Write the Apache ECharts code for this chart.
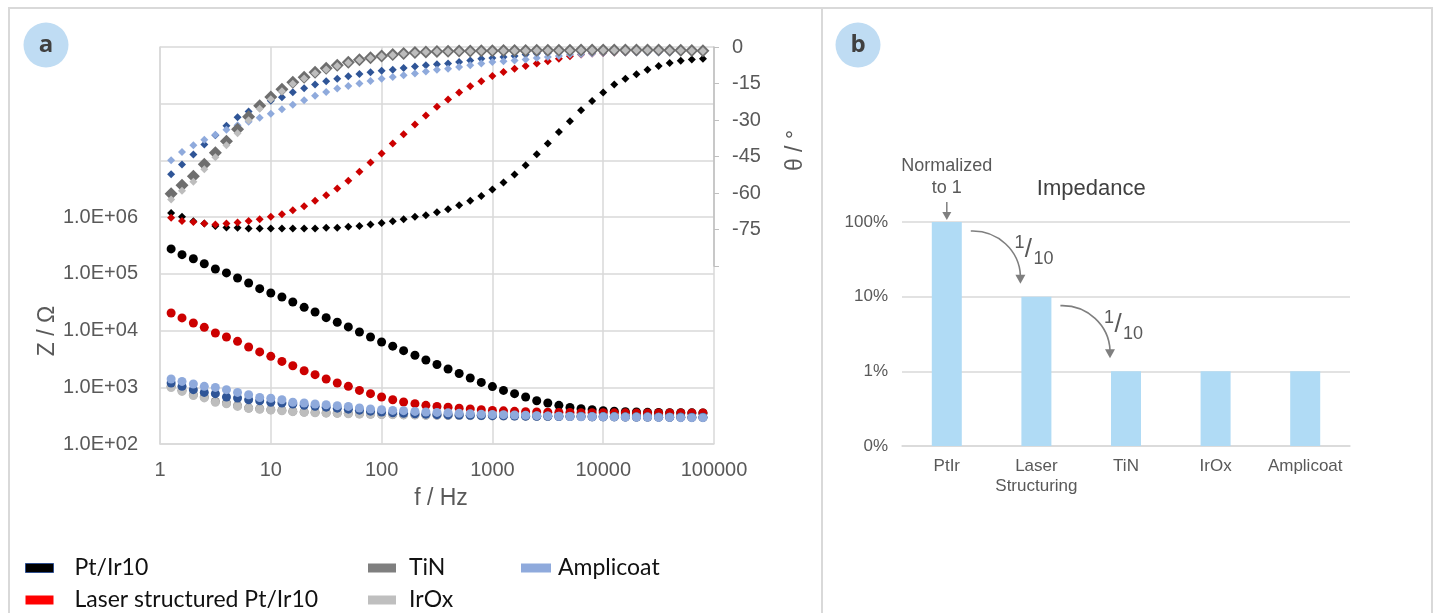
<!DOCTYPE html>
<html><head><meta charset="utf-8">
<script src="https://cdn.jsdelivr.net/npm/echarts@6/dist/echarts.min.js"></script>
<style>html,body{margin:0;padding:0;background:#fff}#c{width:1438px;height:613px}</style>
</head><body><div id="c"></div>
<script>
// ---------------- DATA ----------------
const freqHz = [1.26,1.58,2.0,2.51,3.16,3.98,5.01,6.31,7.94,10,12.6,15.8,20,25.1,31.6,39.8,50.1,63.1,79.4,100,126,158,200,251,316,398,501,631,794,1000,1259,1585,1995,2512,3162,3981,5012,6310,7943,10000,12589,15849,19953,25119,31623,39811,50119,63096,79433];

// |Z| in Ohm
const zPtIr = [275000,218000,185000,151000,122000,104000,84700,69100,54800,46000,39100,31900,25700,21300,16900,14000,11600,9450,7710,6300,5310,4420,3680,3030,2520,2100,1750,1460,1220,1030,881,771,675,580,529,480,442,419,403,387,378,372,366,362,359,357,355,354,353];
const zLaser = [20400,16700,13600,11400,9070,7710,6450,5140,4200,3510,2860,2400,1960,1670,1400,1190,1040,881,771,675,604,551,514,480,460,446,428,416,403,391,384,377,371,367,364,361,359,356,356,355,354,354,352,352,352,352,352,352,352];
const zTiN = [1038,881,740,675,564,529,474,432,419,403,391,376,367,361,356,352,347,342,338,335,333,329,329,325,325,322,322,319,319,316,316,316,312,312,309,309,307,307,303,303,303,299,299,299,297,297,297,294,294];
const zIrOx = [990,845,715,650,545,510,460,425,410,398,385,372,362,356,350,346,342,338,334,331,329,326,325,322,321,319,318,316,315,313,312,311,310,308,307,306,305,304,303,302,301,300,299,298,297,296,295,294,293];
const zDarkBlue = [1190,1038,907,813,771,675,648,604,580,542,529,508,483,464,446,428,411,395,379,367,356,349,342,336,329,326,323,320,318,316,314,312,310,309,308,306,305,304,303,302,301,300,299,298,297,296,296,295,295];
const zAmplicoat = [1400,1270,1143,1038,996,907,813,740,660,640,604,545,529,508,493,474,460,432,414,403,391,387,376,367,361,356,349,342,336,332,329,325,322,316,313,309,306,303,303,300,300,297,297,297,294,294,291,291,291];

// phase in degrees
const pPtIr = [-68.2,-69.8,-71.6,-72.5,-73.6,-74.2,-74.3,-74.6,-74.6,-74.6,-74.6,-74.6,-74.6,-74.6,-74.3,-74.3,-73.9,-73.6,-72.9,-72.3,-71.6,-70.8,-69.8,-69.1,-67.9,-66.7,-65.0,-63.2,-61.2,-58.6,-55.7,-52.4,-48.6,-44.1,-39.7,-34.9,-30.5,-26.0,-22.2,-18.7,-15.4,-13.0,-11.2,-9.3,-7.8,-6.6,-5.7,-5.1,-4.8];
const pLaser = [-70.2,-71.5,-71.9,-72.5,-72.9,-72.5,-72.1,-71.5,-70.8,-69.8,-68.7,-67.1,-65.4,-63.2,-60.9,-58.2,-55.0,-51.3,-47.5,-43.8,-39.7,-35.9,-31.9,-28.1,-24.6,-21.6,-18.7,-16.1,-14.1,-11.9,-10.3,-8.9,-7.8,-6.8,-5.9,-4.8,-3.8,-3.1,-2.7,-2.5,-2.3,-2.2,-2.1,-2.0,-2.0,-1.9,-1.9,-1.8,-1.8];
const pTiN = [-60.3,-56.8,-53.1,-48.2,-43.5,-38.7,-33.8,-28.7,-24.1,-20.5,-17.4,-14.5,-12.4,-10.4,-8.7,-7.5,-6.3,-5.2,-4.4,-3.7,-3.1,-2.7,-2.3,-2.1,-1.8,-1.7,-1.6,-1.6,-1.5,-1.5,-1.4,-1.4,-1.4,-1.3,-1.3,-1.3,-1.3,-1.2,-1.2,-1.2,-1.2,-1.2,-1.2,-1.2,-1.2,-1.3,-1.3,-1.4,-1.5];
const pIrOx = [-62.7,-59.1,-55.4,-50.2,-45.3,-40.4,-35.4,-30.1,-25.4,-21.5,-18.2,-15.1,-12.9,-10.8,-9.2,-7.8,-6.5,-5.3,-4.5,-3.8,-3.3,-2.8,-2.4,-2.1,-1.8,-1.8,-1.7,-1.7,-1.6,-1.6,-1.5,-1.5,-1.5,-1.4,-1.4,-1.4,-1.4,-1.3,-1.3,-1.3,-1.3,-1.3,-1.3,-1.3,-1.3,-1.4,-1.4,-1.5,-1.6];
const pDarkBlue = [-52.3,-48.3,-44.2,-40.1,-36.3,-32.4,-28.9,-26.5,-23.9,-22.1,-20.7,-18.6,-17.0,-15.4,-14.1,-13.0,-12.0,-11.1,-10.4,-9.8,-9.4,-8.6,-8.0,-7.5,-7.1,-6.8,-6.2,-5.5,-4.8,-4.5,-4.1,-3.7,-3.1,-2.7,-2.5,-2.3,-2.1,-2.1,-1.8,-1.7,-1.6,-1.6,-1.5,-1.5,-1.5,-1.4,-1.4,-1.6,-1.7];
const pAmplicoat = [-46.5,-43.2,-40.4,-38.1,-36.1,-34.0,-32.2,-30.7,-29.1,-27.4,-25.6,-23.7,-21.9,-20.0,-18.5,-17.1,-16.0,-15.0,-14.0,-13.0,-12.3,-11.6,-10.9,-10.1,-9.4,-8.9,-8.2,-7.5,-6.8,-6.2,-5.9,-5.5,-5.1,-4.5,-4.1,-3.7,-3.1,-3.0,-2.7,-2.5,-2.3,-2.3,-2.3,-2.3,-2.3,-2.3,-2.1,-2.1,-2.1];

// panel b
const barCategories = ['PtIr','Laser\nStructuring','TiN','IrOx','Amplicoat'];
const barImpedance = [1, 0.1, 0.01, 0.01, 0.01];
const barNotes = ['1/10','1/10'];

// ---------------- CHART ----------------
const FONT = '"Liberation Sans", Arial, sans-serif';
const LEG_FONT = 'Lato, "Open Sans", sans-serif';
const GRID_C = '#d9d9d9';
const LABEL_C = '#595959';

const pair = arr => freqHz.map((f, i) => [f, arr[i]]);
function zSer(name, arr, color, z) {
  return {type:'scatter', name, xAxisIndex:0, yAxisIndex:0, data:pair(arr), symbol:'circle',
    symbolSize:9, itemStyle:{color, opacity:1}, z, silent:true};
}
function pSer(name, arr, color, size, z) {
  return {type:'scatter', name, xAxisIndex:1, yAxisIndex:1, data:pair(arr), symbol:'diamond',
    symbolSize:size, itemStyle:{color, opacity:1}, z, silent:true};
}
const legendBase = {orient:'vertical', top:550, height:70, itemWidth:28, itemHeight:9, itemGap:6, selectedMode:false, icon:'rect'};
const legText = pad => ({fontSize:23, lineHeight:26, fontFamily:LEG_FONT, color:'#111', padding:[0,0,0,pad]});

const chart = echarts.init(document.getElementById('c'), null, {renderer:'canvas'});
const option = {
  animation:false,
  backgroundColor:'#fff',
  grid:[
    {left:160, top:47, width:554, height:397},
    {left:160, top:47, width:554, height:219},
    {left:902, top:222, width:448, height:224}
  ],
  xAxis:[
    {gridIndex:0, type:'log', logBase:10, min:1, max:100000, splitNumber:5,
     axisLine:{show:true, lineStyle:{color:GRID_C, width:1.5}}, axisTick:{show:false},
     splitLine:{show:true, lineStyle:{color:GRID_C, width:1.5}},
     axisLabel:{color:LABEL_C, fontSize:20, fontFamily:FONT, margin:16, formatter:v=>String(Math.round(v))},
     name:'f / Hz', nameLocation:'middle', nameGap:43,
     nameTextStyle:{color:LABEL_C, fontSize:23, fontFamily:FONT, padding:[0,0,0,8]}},
    {gridIndex:1, type:'log', logBase:10, min:1, max:100000, show:false},
    {gridIndex:2, type:'category', data:barCategories,
     axisLine:{show:true, lineStyle:{color:GRID_C, width:1.5}}, axisTick:{show:false},
     axisLabel:{color:LABEL_C, fontSize:17, fontFamily:FONT, margin:10, lineHeight:20, interval:0, hideOverlap:false}}
  ],
  yAxis:[
    {gridIndex:0, type:'log', logBase:10, min:100, max:1e9, splitNumber:7,
     axisLine:{show:true, lineStyle:{color:GRID_C, width:1.5}}, axisTick:{show:false},
     splitLine:{show:true, lineStyle:{color:GRID_C, width:1.5}},
     axisLabel:{color:LABEL_C, fontSize:20, fontFamily:FONT, margin:22,
       formatter:v=>{const e=Math.round(Math.log10(v)); return e<=6 ? '1.0E+0'+e : '';}}},
    {gridIndex:1, type:'value', position:'right', min:-90, max:0, interval:15,
     axisLine:{show:true, lineStyle:{color:'#bfbfbf', width:1.5}},
     axisTick:{show:true, inside:false, length:5, lineStyle:{color:'#bfbfbf'}},
     splitLine:{show:false},
     axisLabel:{color:LABEL_C, fontSize:20, fontFamily:FONT, margin:18,
       formatter:v=> v===-90 ? '' : String(v)},
     name:'θ / °', nameLocation:'middle', nameRotate:90, nameGap:70,
     nameTextStyle:{color:LABEL_C, fontSize:23, fontFamily:FONT, padding:[0,0,0,12]}},
    {gridIndex:2, type:'log', logBase:10, min:0.001, max:1, splitNumber:3, startValue:0.001,
     axisLine:{show:false}, axisTick:{show:false},
     splitLine:{show:true, lineStyle:{color:GRID_C, width:1.5}},
     axisLabel:{color:LABEL_C, fontSize:17, fontFamily:FONT, margin:14,
       formatter:v=>Math.round(v*100)+'%'}}
  ],
  legend:[
    Object.assign({}, legendBase, {left:20, textStyle:legText(16),
     data:[{name:'Pt/Ir10', itemStyle:{color:'#000', borderColor:'#2f4f8f', borderWidth:1, opacity:1}},
           {name:'Laser structured Pt/Ir10', itemStyle:{color:'#ff0000', opacity:1}}]}),
    Object.assign({}, legendBase, {left:363, textStyle:legText(8),
     data:[{name:'TiN', itemStyle:{color:'#7f7f7f', opacity:1}},
           {name:'IrOx', itemStyle:{color:'#bfbfbf', opacity:1}}]}),
    Object.assign({}, legendBase, {left:516, itemWidth:30, textStyle:legText(2),
     data:[{name:'Amplicoat', itemStyle:{color:'#8faadc', opacity:1}}]})
  ],
  series:[
    zSer('Pt/Ir10', zPtIr, '#000000', 2),
    zSer('Laser structured Pt/Ir10', zLaser, '#cc0000', 3),
    zSer('TiN', zTiN, '#7f7f7f', 4),
    zSer('IrOx', zIrOx, '#bdbdbd', 5),
    zSer('Pt/Ir10 reference', zDarkBlue, '#2f5597', 6),
    zSer('Amplicoat', zAmplicoat, '#8faadc', 7),
    pSer('Pt/Ir10', pPtIr, '#000000', 8, 2),
    pSer('Laser structured Pt/Ir10', pLaser, '#cc0000', 8, 3),
    pSer('Pt/Ir10 reference', pDarkBlue, '#2f5597', 8, 4),
    pSer('Amplicoat', pAmplicoat, '#8faadc', 8, 5),
    pSer('TiN', pTiN, '#6e6e6e', 13, 6),
    pSer('IrOx', pIrOx, '#bdbdbd', 8, 7),
    {type:'bar', name:'Impedance', xAxisIndex:2, yAxisIndex:2, data:barImpedance, barWidth:30,
     itemStyle:{color:'#b0dbf5'}, silent:true}
  ]
};
chart.setOption(option);

// ---------- decorations & annotations ----------
const G = [];
G.push({type:'rect', shape:{x:9,y:8,width:813,height:640}, style:{fill:null, stroke:'#d9d9d9', lineWidth:2}, silent:true});
G.push({type:'rect', shape:{x:822,y:8,width:610,height:640}, style:{fill:null, stroke:'#d9d9d9', lineWidth:2}, silent:true});
G.push({type:'circle', shape:{cx:46, cy:45, r:22.5}, style:{fill:'#bfdcf3'}, silent:true});
G.push({type:'text', x:46, y:45, style:{text:'a', fontSize:24, fontWeight:'bold', fontFamily:'"Open Sans", sans-serif', fill:'#404040', align:'center', verticalAlign:'middle'}, silent:true});
G.push({type:'circle', shape:{cx:858, cy:45, r:22.5}, style:{fill:'#bfdcf3'}, silent:true});
G.push({type:'text', x:858, y:45, style:{text:'b', fontSize:24, fontWeight:'bold', fontFamily:'"Open Sans", sans-serif', fill:'#404040', align:'center', verticalAlign:'middle'}, silent:true});
G.push({type:'text', x:48, y:331, rotation:Math.PI/2, style:{text:'Z / Ω', fontSize:23, fontFamily:FONT, fill:LABEL_C, align:'center', verticalAlign:'middle'}, silent:true});

const barPx = barCategories.map((c, i) => chart.convertToPixel({gridIndex:2}, [c, barImpedance[i]]));
const AC = '#7f7f7f';
// title
G.push({type:'text', x:(barPx[1][0]+barPx[2][0])/2 + 10, y:barPx[0][1]-33, style:{text:'Impedance', fontSize:22, fontFamily:FONT, fill:'#404040', align:'center', verticalAlign:'middle'}, silent:true});
// "Normalized to 1"
const p0 = barPx[0];
G.push({type:'text', x:p0[0], y:p0[1]-56, style:{text:'Normalized', fontSize:18, fontFamily:FONT, fill:LABEL_C, align:'center', verticalAlign:'middle'}, silent:true});
G.push({type:'text', x:p0[0], y:p0[1]-34, style:{text:'to 1', fontSize:18, fontFamily:FONT, fill:LABEL_C, align:'center', verticalAlign:'middle'}, silent:true});
G.push({type:'line', shape:{x1:p0[0], y1:p0[1]-20, x2:p0[0], y2:p0[1]-8}, style:{stroke:AC, lineWidth:1.5}, silent:true});
G.push({type:'polygon', shape:{points:[[p0[0]-4.5,p0[1]-10],[p0[0]+4.5,p0[1]-10],[p0[0],p0[1]-2]]}, style:{fill:AC}, silent:true});
// curved arrows with 1/10
for (let i = 0; i < 2; i++) {
  const a = barPx[i], b = barPx[i+1];
  const S = [a[0]+24, a[1]+9];
  const T = [b[0]-16, b[1]-13];
  const B = [T[0], T[1]-8];
  G.push({type:'bezierCurve', shape:{x1:S[0], y1:S[1], cpx1:S[0]+0.55*(B[0]-S[0]), cpy1:S[1]-1, cpx2:B[0]-1, cpy2:S[1]+0.45*(B[1]-S[1]), x2:B[0], y2:B[1]},
    style:{stroke:AC, lineWidth:1.6, fill:null}, silent:true});
  G.push({type:'polygon', shape:{points:[[T[0]-5,T[1]-9],[T[0]+5,T[1]-9],[T[0],T[1]]]}, style:{fill:AC}, silent:true});
  const cx = b[0]-3, cy = a[1]+29;
  const parts = barNotes[i].split('/');
  G.push({type:'text', x:cx-14, y:cy-8, style:{text:parts[0], fontSize:18, fontFamily:FONT, fill:LABEL_C, align:'center', verticalAlign:'middle'}, silent:true});
  G.push({type:'text', x:cx-5, y:cy-1, style:{text:'/', fontSize:26, fontFamily:FONT, fill:LABEL_C, align:'center', verticalAlign:'middle'}, silent:true});
  G.push({type:'text', x:cx+10, y:cy+8, style:{text:parts[1], fontSize:18, fontFamily:FONT, fill:LABEL_C, align:'center', verticalAlign:'middle'}, silent:true});
}
chart.setOption({graphic:G});
</script>
</body></html>
